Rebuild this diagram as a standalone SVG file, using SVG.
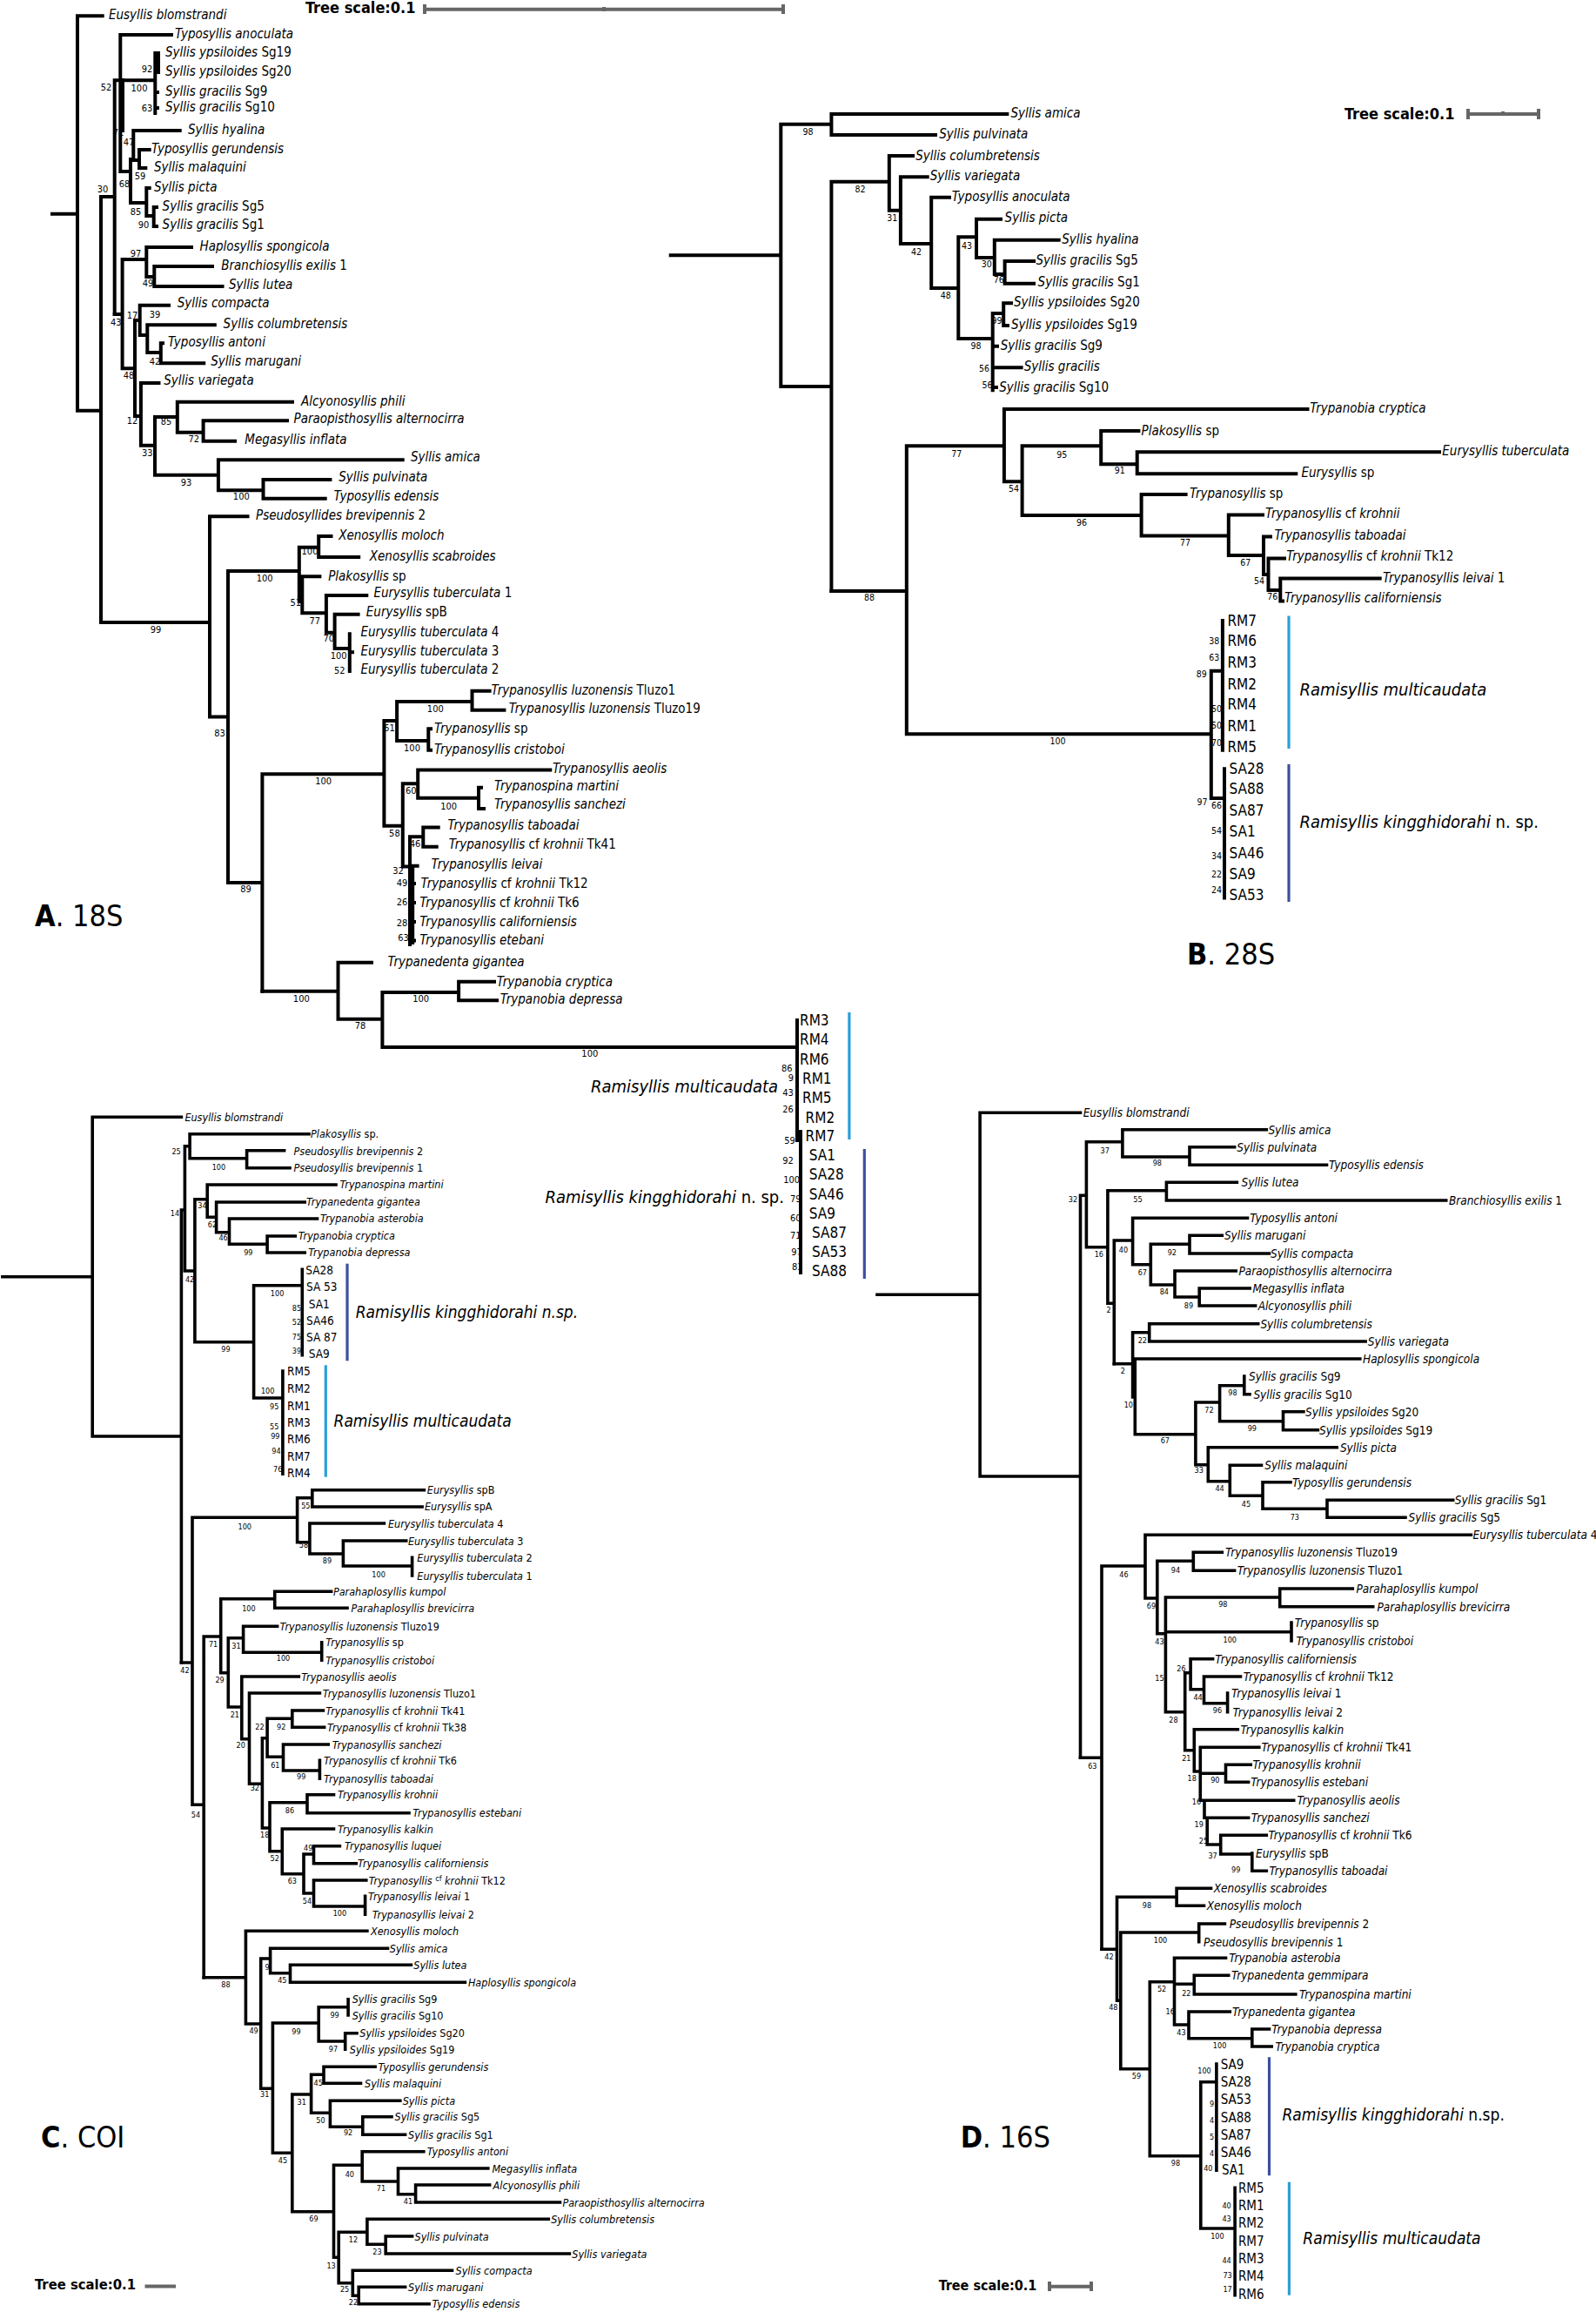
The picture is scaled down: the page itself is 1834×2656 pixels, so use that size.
<svg xmlns="http://www.w3.org/2000/svg" width="1834" height="2656" viewBox="0 0 1834 2656">
<style>
text{font-family:'DejaVu Sans Condensed','DejaVu Sans',sans-serif;fill:#000}
.br{fill:none;stroke:#000;stroke-width:4;stroke-linecap:square}
.brc{stroke-width:3.6}
.i{font-style:italic}
.u{font-style:normal}
.la{font-size:15px}
.lc{font-size:12.5px}
.ld{font-size:13.5px}
.sa{font-size:11px;text-anchor:middle;fill:#111}
.sb{font-size:10.5px;text-anchor:middle;fill:#222}
.sc{font-size:9px;text-anchor:middle;fill:#111}
.code{font-size:17px}
.codec{font-size:13.5px}
.coded{font-size:15px}
.big{font-size:20px;font-style:italic}
.bigc{font-size:19px;font-style:italic}
.pl{font-size:34px}
.ts{font-weight:bold}
.sbar{fill:none;stroke:#666;stroke-width:4}
.lb{stroke:#2a9fd8;stroke-width:3.2}
.db{stroke:#3b4fa0;stroke-width:3.2}
</style>

<!-- ================= PANEL A : 18S ================= -->
<g id="A-tree" class="br">
<path d="M60 245.7H89 M89 18.3V471.7 M89 18.3H117.7 M89 471.7H116 M116 226V715 M116 226H131.7 M131.7 92.3V361 M131.7 92.3H178.3 M178.3 61V130 M182 61V83 M178.3 72H182 M178.3 106H181 M178.3 124H181 M138.3 40V197 M141 92V150 M138.3 40H197 M138.3 197H150 M150 183V233 M150 183H153.3 M153.3 150V184 M153.3 150H206.7 M153.3 184H160 M160 172V193 M160 172H171.7 M160 193H167.3 M150 233H168.3 M168.3 216V248 M168.3 216H171.7 M168.3 248H176.7 M176.7 238V260 M176.7 238H180 M176.7 260H180"/>
<path d="M131.7 361H140.6 M140.6 298V423.3 M140.6 298H168.3 M168.3 284V318 M168.3 284H220 M168.3 318H177.3 M177.3 306V329 M177.3 306H244 M177.3 329H255.5 M140.6 423.3H155 M155 368V478 M155 368H160.7 M160.7 350.7V385 M160.7 350.7H194 M160.7 385H169.3 M169.3 373.3V405 M169.3 373.3H246.8 M169.3 405H184.8 M184.8 394.3V417.3 M184.8 394.3H187 M184.8 417.3H234.2 M155 478H161.9 M161.9 440V511.7 M161.9 440H182.5 M161.9 511.7H178 M178 479V545.7 M178 479H203.8 M203.8 461.7V496.7 M203.8 461.7H336 M203.8 496.7H233.6 M233.6 483.3V506.7 M233.6 483.3H330 M233.6 506.7H270 M178 545.7H250.9 M250.9 528.3V563.3 M250.9 528.3H462.7 M250.9 563.3H302.5 M302.5 551V572.7 M302.5 551H379.4 M302.5 572.7H373.7"/>
<path d="M116 715H241 M241 593.3V823.6 M241 593.3H284.5 M241 823.6H262 M262 656V1014 M262 656H343.8 M343.8 628.7V691 M343.8 628.7H366.2 M366.2 616V640 M366.2 616H380.5 M366.2 640H412.2 M343.8 691H347.3 M347.3 662.3V704.3 M347.3 662.3H367.4 M347.3 704.3H374.9 M374.9 684V726.7 M374.9 684H421.3 M374.9 726.7H384.6 M384.6 705.7V745 M384.6 705.7H411.6 M384.6 745H401.8 M401.8 728.3V771 M401.8 749.3H405"/>
<path d="M262 1014H301.4 M301.4 889.2V1138.7 M301.4 889.2H441.4 M441.4 828V948.8 M441.4 828H456.1 M456.1 806.1V851.1 M456.1 806.1H542.5 M542.5 793.8V815.8 M542.5 793.8H562.6 M542.5 815.8H579.4 M456.1 851.1H492.3 M492.3 837.3V861.7 M492.3 837.3H495 M492.3 861.7H495 M441.4 948.8H462.8 M462.8 900.2V995.6 M462.8 900.2H480.2 M480.2 884.6V916.7 M480.2 884.6H632.3 M480.2 916.7H550 M550 904.8V929 M550 904.8H553 M550 929H556 M462.8 995.6H471 M471 961.2V1085 M471 961.2H486.3 M486.3 950.6V972.7 M486.3 950.6H503.7 M486.3 972.7H501.7 M471 994.7H479.6 M474.2 994.7V1083 M471 1014.9H476 M471 1036.9H476 M471 1058.9H476 M471 1080.5H476"/>
<path d="M301.4 1138.7H388.5 M388.5 1105.7V1170.8 M388.5 1105.7H427 M388.5 1170.8H439.4 M439.4 1140.1V1203 M439.4 1140.1H527.1 M527.1 1127.7V1149.3 M527.1 1127.7H568 M527.1 1149.3H571 M439.4 1203H915.6 M916 1172V1310 M920 1300V1462"/>
</g>
<g id="A-bars">
<path class="lb" d="M975.9 1163V1309"/>
<path class="db" d="M993.3 1320V1469"/>
</g>
<g id="A-leaves" class="i la">
<text x="125" y="22">Eusyllis blomstrandi</text>
<text x="201" y="44">Typosyllis anoculata</text>
<text x="190" y="65">Syllis ypsiloides <tspan class="u">Sg19</tspan></text>
<text x="190" y="87">Syllis ypsiloides <tspan class="u">Sg20</tspan></text>
<text x="190" y="110">Syllis gracilis <tspan class="u">Sg9</tspan></text>
<text x="190" y="128">Syllis gracilis <tspan class="u">Sg10</tspan></text>
<text x="216" y="154">Syllis hyalina</text>
<text x="174" y="176">Typosyllis gerundensis</text>
<text x="177" y="197">Syllis malaquini</text>
<text x="177" y="220">Syllis picta</text>
<text x="186.6" y="242">Syllis gracilis <tspan class="u">Sg5</tspan></text>
<text x="186.6" y="263">Syllis gracilis <tspan class="u">Sg1</tspan></text>
<text x="229.6" y="288">Haplosyllis spongicola</text>
<text x="254.3" y="310">Branchiosyllis exilis <tspan class="u">1</tspan></text>
<text x="263" y="332">Syllis lutea</text>
<text x="203.8" y="353">Syllis compacta</text>
<text x="256.6" y="377">Syllis columbretensis</text>
<text x="192.9" y="398">Typosyllis antoni</text>
<text x="242.3" y="420">Syllis marugani</text>
<text x="188.3" y="442">Syllis variegata</text>
<text x="346" y="466">Alcyonosyllis phili</text>
<text x="337.5" y="486">Paraopisthosyllis alternocirra</text>
<text x="281.3" y="510">Megasyllis inflata</text>
<text x="471.9" y="530">Syllis amica</text>
<text x="389.2" y="553">Syllis pulvinata</text>
<text x="383.5" y="575">Typosyllis edensis</text>
<text x="294" y="597">Pseudosyllides brevipennis <tspan class="u">2</tspan></text>
<text x="389.2" y="620">Xenosyllis moloch</text>
<text x="424.8" y="644">Xenosyllis scabroides</text>
<text x="377.2" y="667">Plakosyllis <tspan class="u">sp</tspan></text>
<text x="429.4" y="686">Eurysyllis tuberculata <tspan class="u">1</tspan></text>
<text x="420.8" y="708">Eurysyllis <tspan class="u">spB</tspan></text>
<text x="414.5" y="731">Eurysyllis tuberculata <tspan class="u">4</tspan></text>
<text x="414.5" y="753">Eurysyllis tuberculata <tspan class="u">3</tspan></text>
<text x="414.5" y="774">Eurysyllis tuberculata <tspan class="u">2</tspan></text>
<text x="564.6" y="798">Trypanosyllis luzonensis <tspan class="u">Tluzo1</tspan></text>
<text x="584.7" y="819">Trypanosyllis luzonensis <tspan class="u">Tluzo19</tspan></text>
<text x="499" y="842">Trypanosyllis <tspan class="u">sp</tspan></text>
<text x="499" y="866">Trypanosyllis cristoboi</text>
<text x="635" y="888">Trypanosyllis aeolis</text>
<text x="568" y="908">Trypanospina martini</text>
<text x="568" y="929">Trypanosyllis sanchezi</text>
<text x="514.4" y="953">Trypanosyllis taboadai</text>
<text x="515.7" y="975">Trypanosyllis <tspan class="u">cf</tspan> krohnii <tspan class="u">Tk41</tspan></text>
<text x="495.6" y="998">Trypanosyllis leivai</text>
<text x="483.6" y="1020">Trypanosyllis <tspan class="u">cf</tspan> krohnii <tspan class="u">Tk12</tspan></text>
<text x="482.2" y="1042">Trypanosyllis <tspan class="u">cf</tspan> krohnii <tspan class="u">Tk6</tspan></text>
<text x="482.2" y="1064">Trypanosyllis californiensis</text>
<text x="482.2" y="1085">Trypanosyllis etebani</text>
<text x="445.4" y="1110">Trypanedenta gigantea</text>
<text x="570.7" y="1133">Trypanobia cryptica</text>
<text x="574.7" y="1153">Trypanobia depressa</text>
</g>
<g id="A-codes" class="code">
<text x="919" y="1178">RM3</text>
<text x="919" y="1200">RM4</text>
<text x="919" y="1222.7">RM6</text>
<text x="922" y="1244.7">RM1</text>
<text x="922" y="1266.7">RM5</text>
<text x="925.6" y="1289.7">RM2</text>
<text x="925.6" y="1311.2">RM7</text>
<text x="929.7" y="1333.2">SA1</text>
<text x="929.7" y="1355.3">SA28</text>
<text x="929.7" y="1377.7">SA46</text>
<text x="929.7" y="1399.8">SA9</text>
<text x="933" y="1422.2">SA87</text>
<text x="933" y="1444.3">SA53</text>
<text x="933" y="1466.3">SA88</text>
</g>
<g id="A-support" class="sa">
<text x="169" y="83">92</text><text x="160" y="105">100</text><text x="169" y="128">63</text>
<text x="122" y="104">52</text><text x="136" y="156">71</text><text x="148" y="167">47</text>
<text x="161" y="206">59</text><text x="143" y="215">68</text><text x="118" y="221">30</text>
<text x="156" y="247">85</text><text x="165" y="262">90</text>
<text x="156" y="295">97</text><text x="170" y="329">49</text>
<text x="133.3" y="374">43</text><text x="152" y="366">17</text><text x="178" y="365">39</text>
<text x="178" y="419">42</text><text x="148" y="435">48</text><text x="152" y="487">12</text>
<text x="191" y="488">85</text><text x="222.7" y="508">72</text><text x="169.3" y="524">33</text>
<text x="214" y="558">93</text><text x="277.3" y="574">100</text>
<text x="179" y="727">99</text><text x="304.2" y="668">100</text><text x="356" y="637">100</text>
<text x="339.8" y="696">51</text><text x="361.7" y="717">77</text><text x="377.7" y="737">70</text>
<text x="389.2" y="757">100</text><text x="390.3" y="774">52</text><text x="252.5" y="846">83</text>
<text x="500.3" y="818">100</text><text x="447.4" y="840">61</text><text x="473.5" y="863">100</text>
<text x="371.7" y="901">100</text><text x="472.2" y="912">60</text><text x="515.7" y="930">100</text>
<text x="453.4" y="961">58</text><text x="477" y="973">46</text><text x="457.5" y="1004">32</text>
<text x="462" y="1018">49</text><text x="462" y="1040">26</text><text x="462" y="1064">28</text>
<text x="463.5" y="1081">63</text><text x="282.6" y="1025">89</text>
<text x="346.3" y="1151">100</text><text x="483.6" y="1151">100</text><text x="414" y="1182">78</text>
<text x="677.8" y="1214">100</text>
<text x="904.2" y="1231">86</text><text x="909" y="1242">9</text><text x="905.6" y="1259">43</text>
<text x="905.6" y="1278">26</text><text x="907.6" y="1314">59</text><text x="905.6" y="1337">92</text>
<text x="909.6" y="1359">100</text><text x="914.3" y="1381">79</text><text x="914.3" y="1403">60</text>
<text x="914.3" y="1423">71</text><text x="915.6" y="1442">97</text><text x="916.3" y="1459">83</text>
</g>
<g id="A-clades">
<text class="big" x="894" y="1255" text-anchor="end">Ramisyllis multicaudata</text>
<text class="big" x="901" y="1382" text-anchor="end">Ramisyllis kingghidorahi <tspan class="u">n. sp.</tspan></text>
</g>
<g id="A-title">
<text class="pl" x="40" y="1064"><tspan font-weight="bold">A</tspan>. 18S</text>
</g>
<g id="A-scale">
<text class="ts" x="351" y="15" font-size="18">Tree scale:0.1</text>
<path class="sbar" d="M488 10.7H900 M488 5V16 M900 5V16 M694 8V13"/>
</g>

<!-- ================= PANEL B : 28S ================= -->
<g id="B-tree" class="br">
<path d="M770.7 293.3H897.3 M897.3 142.7V444 M897.3 142.7H955.4 M955.4 131V155 M955.4 131H1157.3 M955.4 155H1074.9 M897.3 444H955.4 M955.4 208.7V678.9 M955.4 208.7H1021.8 M1021.8 179V241.7 M1021.8 179H1049 M1021.8 241.7H1034.9 M1034.9 203.3V280 M1034.9 203.3H1065.7 M1034.9 280H1070.2 M1070.2 226.7V331 M1070.2 226.7H1091 M1070.2 331H1101.3 M1101.3 272.3V389 M1101.3 272.3H1122 M1122 251.7V296 M1122 251.7H1150 M1122 296H1142.8 M1142.8 275.7V315 M1142.8 275.7H1216.7 M1142.8 315H1154.6 M1154.6 300V325.7 M1154.6 300H1188 M1154.6 325.7H1188 M1101.3 389H1140.7 M1140.7 360V448.3 M1140.7 360H1153.2 M1153.2 348.3V374 M1153.2 348.3H1162 M1153.2 374H1158 M1140.7 397.7H1146 M1140.7 422.3H1173.6 M1140.7 445H1145"/>
<path d="M955.4 678.9H1041.8 M1041.8 512.3V843.2 M1041.8 512.3H1153.9 M1153.9 470V553.3 M1153.9 470H1502.5 M1153.9 553.3H1174.6 M1174.6 512.3V592.1 M1174.6 512.3H1265.2 M1265.2 495V533.3 M1265.2 495H1308.4 M1265.2 533.3H1306.7 M1306.7 519.3V544.3 M1306.7 519.3H1654 M1306.7 544.3H1489.3 M1174.6 592.1H1311.6 M1311.6 567.9V615.4 M1311.6 567.9H1362.6 M1311.6 615.4H1411.8 M1411.8 591.4V637.9 M1411.8 591.4H1451 M1411.8 637.9H1452 M1452 616.4V660 M1452 616.4H1460 M1452 660H1457.5 M1457.5 641.4V677.9 M1457.5 641.4H1476 M1457.5 677.9H1471.3 M1471.3 664.6V690.4 M1471.3 664.6H1585.7 M1471.3 690.4H1474 M1041.8 843.2H1391.8 M1391.8 770.7V917.1 M1391.8 770.7H1404.9 M1404.9 712.9V861.8 M1391.8 917.1H1407 M1407 883.2V1031.4"/>
</g>
<g id="B-bars">
<path class="lb" d="M1481 707.5V860"/>
<path class="db" d="M1481 877.9V1036"/>
</g>
<g id="B-leaves" class="i la">
<text x="1161.5" y="135">Syllis amica</text>
<text x="1079.2" y="159">Syllis pulvinata</text>
<text x="1052.2" y="184">Syllis columbretensis</text>
<text x="1068.8" y="207">Syllis variegata</text>
<text x="1093.7" y="231">Typosyllis anoculata</text>
<text x="1154.6" y="255">Syllis picta</text>
<text x="1220.3" y="280">Syllis hyalina</text>
<text x="1190.5" y="304">Syllis gracilis <tspan class="u">Sg5</tspan></text>
<text x="1192.6" y="329">Syllis gracilis <tspan class="u">Sg1</tspan></text>
<text x="1165" y="352">Syllis ypsiloides <tspan class="u">Sg20</tspan></text>
<text x="1162" y="378">Syllis ypsiloides <tspan class="u">Sg19</tspan></text>
<text x="1149.7" y="402">Syllis gracilis <tspan class="u">Sg9</tspan></text>
<text x="1176.7" y="426">Syllis gracilis</text>
<text x="1148.3" y="450">Syllis gracilis <tspan class="u">Sg10</tspan></text>
<text x="1505.2" y="474">Trypanobia cryptica</text>
<text x="1311.6" y="500">Plakosyllis <tspan class="u">sp</tspan></text>
<text x="1657.3" y="523">Eurysyllis tuberculata</text>
<text x="1495.5" y="548">Eurysyllis <tspan class="u">sp</tspan></text>
<text x="1366.9" y="572">Trypanosyllis <tspan class="u">sp</tspan></text>
<text x="1454" y="595">Trypanosyllis <tspan class="u">cf</tspan> krohnii</text>
<text x="1464.4" y="620">Trypanosyllis taboadai</text>
<text x="1478.2" y="644">Trypanosyllis <tspan class="u">cf</tspan> krohnii <tspan class="u">Tk12</tspan></text>
<text x="1588.9" y="669">Trypanosyllis leivai <tspan class="u">1</tspan></text>
<text x="1476" y="692">Trypanosyllis californiensis</text>
</g>
<g id="B-codes" class="code">
<text x="1410.4" y="719">RM7</text>
<text x="1410.4" y="742.4">RM6</text>
<text x="1410.4" y="767">RM3</text>
<text x="1410.4" y="791.7">RM2</text>
<text x="1410.4" y="814.9">RM4</text>
<text x="1410.4" y="840.3">RM1</text>
<text x="1410.4" y="864.2">RM5</text>
<text x="1412.5" y="889.2">SA28</text>
<text x="1412.5" y="912.4">SA88</text>
<text x="1412.5" y="937.4">SA87</text>
<text x="1412.5" y="960.6">SA1</text>
<text x="1412.5" y="985.6">SA46</text>
<text x="1412.5" y="1009.9">SA9</text>
<text x="1412.5" y="1033.9">SA53</text>
</g>
<g id="B-support" class="sb">
<text x="928.4" y="155">98</text><text x="988.6" y="221">82</text><text x="1025.2" y="254">31</text>
<text x="1052.9" y="293">42</text><text x="1086.8" y="343">48</text><text x="1111" y="286">43</text>
<text x="1133.8" y="307">30</text><text x="1147.7" y="325">76</text><text x="1145.6" y="372">99</text>
<text x="1121.4" y="401">98</text><text x="1131" y="427">56</text><text x="1134.5" y="446">56</text>
<text x="1099.2" y="525">77</text><text x="1220.3" y="526">95</text><text x="1286.7" y="544">91</text>
<text x="1164.9" y="565">54</text><text x="1243" y="604">96</text><text x="1362" y="627">77</text>
<text x="1431.2" y="650">67</text><text x="1447" y="671">54</text><text x="1462.3" y="689">76</text>
<text x="999" y="690">88</text><text x="1215.4" y="855">100</text><text x="1380.7" y="778">89</text>
<text x="1395.2" y="740">38</text><text x="1395.2" y="759">63</text><text x="1398" y="818">50</text>
<text x="1398" y="837">50</text><text x="1398" y="857">70</text><text x="1381.4" y="925">97</text>
<text x="1398" y="929">66</text><text x="1398" y="958">54</text><text x="1398" y="987">34</text>
<text x="1398" y="1008">22</text><text x="1398" y="1026">24</text>
</g>
<g id="B-clades">
<text class="big" x="1493.4" y="799">Ramisyllis multicaudata</text>
<text class="big" x="1493.4" y="951">Ramisyllis kingghidorahi <tspan class="u">n. sp.</tspan></text>
</g>
<g id="B-title">
<text class="pl" x="1364" y="1108"><tspan font-weight="bold">B</tspan>. 28S</text>
</g>
<g id="B-scale">
<text class="ts" x="1545" y="137" font-size="18">Tree scale:0.1</text>
<path class="sbar" d="M1687 131H1768 M1687 125V137 M1768 125V137 M1727 128V133"/>
</g>

<!-- ================= PANEL C : COI ================= -->
<g id="C-tree" class="br brc">
<path d="M2.9 1466.7H106.2 M106.2 1283.3V1650 M106.2 1283.3H208.4 M106.2 1650H208.4 M208.4 1390V1910 M208.4 1390H212.4 M212.4 1316.7V1460 M212.4 1316.7H218.1 M218.1 1302.7V1330.7 M218.1 1302.7H355 M218.1 1330.7H283.6 M283.6 1321.7V1341.7 M283.6 1321.7H326.6 M283.6 1341.7H333 M212.4 1460H223.9 M223.9 1377.7V1541.7 M223.9 1377.7H238.2 M238.2 1361V1398.3 M238.2 1361H386 M238.2 1398.3H248.6 M248.6 1381V1415.7 M248.6 1381H350.2 M248.6 1415.7H263.5 M263.5 1400V1429.3 M263.5 1400H364.5 M263.5 1429.3H307.1 M307.1 1420V1439 M307.1 1420H339.3 M307.1 1439H350.2 M223.9 1541.7H291.6 M291.6 1476.7V1606 M291.6 1476.7H347.3 M347.3 1458.3V1556.7 M291.6 1606H324.9 M324.9 1575V1693.3"/>
<path d="M208.4 1910H221 M221 1743.3V2073.3 M221 1743.3H341.6 M341.6 1720.7V1771.7 M341.6 1720.7H358.8 M358.8 1711.7V1731 M358.8 1711.7H487.4 M358.8 1731H485.1 M341.6 1771.7H355.9 M355.9 1750V1785 M355.9 1750H441.4 M355.9 1785H394.4 M394.4 1770V1799 M394.4 1770H466.7 M394.4 1799H473.6 M473.6 1789.3V1810 M221 2073.3H234.2 M234.2 1880V2271.7 M234.2 1880H253.7 M253.7 1836.7V1921.7 M253.7 1836.7H315.7 M315.7 1828.3V1847.3 M315.7 1828.3H380.6 M315.7 1847.3H399 M253.7 1921.7H262.3 M262.3 1881.7V1961 M262.3 1881.7H279.6 M279.6 1868.3V1898.3 M279.6 1868.3H318.6 M279.6 1898.3H369.7 M369.7 1886.7V1907.3 M262.3 1961H277.8 M277.8 1926V1997.7 M277.8 1926H343.3 M277.8 1997.7H286.5 M286.5 1945V2049.3 M286.5 1945H367.4 M286.5 2049.3H301.4 M301.4 1996.7V2100 M301.4 1996.7H307.1 M307.1 1974.3V2018.3 M307.1 1974.3H335.8 M335.8 1965V1984.3 M335.8 1965H371.4 M335.8 1984.3H372.6 M307.1 2018.3H325.5 M325.5 2004V2034 M325.5 2004H377.2 M325.5 2034H367.4 M367.4 2022.3V2043.3 M301.4 2100H310 M310 2070.7V2126.7 M310 2070.7H353 M353 2061.7V2082.7 M353 2061.7H383.5 M353 2082.7H470 M310 2126.7H324.3 M324.3 2101V2152.7 M324.3 2101H383.5 M324.3 2152.7H349 M349 2130V2175 M349 2130H360.5 M360.5 2120.7V2140.7 M360.5 2120.7H390.4 M360.5 2140.7H409.3 M349 2175H360.5 M360.5 2160V2190 M360.5 2160H420.8 M360.5 2190H419.6 M419.6 2178.3V2199.3"/>
<path d="M234.2 2271.7H282.4 M282.4 2218.3V2325 M282.4 2218.3H421.9 M282.4 2325H299.7 M299.7 2250V2399.3 M299.7 2250H310.6 M310.6 2238.3V2266.7 M310.6 2238.3H445.5 M310.6 2266.7H333.5 M333.5 2257.3V2277.3 M333.5 2257.3H472.4 M333.5 2277.3H534.4 M299.7 2399.3H313.4 M313.4 2324V2473.3 M313.4 2324H366.2 M366.2 2305.7V2345 M366.2 2305.7H400.1 M400.1 2296.7V2315 M366.2 2345H396.7 M396.7 2335.7V2354.3 M396.7 2335.7H410 M313.4 2473.3H335.8 M335.8 2406V2540.7 M335.8 2406H357.6 M357.6 2383.3V2427.3 M357.6 2383.3H372 M372 2374.3V2393.3 M372 2374.3H431.1 M372 2393.3H414.5 M357.6 2427.3H379.4 M379.4 2413.3V2443.3 M379.4 2413.3H459.8 M379.4 2443.3H416.8 M416.8 2431.7V2452.3 M416.8 2431.7H450 M416.8 2452.3H465.6 M335.8 2540.7H383.5 M383.5 2487.3V2593.3 M383.5 2487.3H416.2 M416.2 2471.7V2506 M416.2 2471.7H486.8 M416.2 2506H457.5 M457.5 2491V2520.7 M457.5 2491H560.8 M457.5 2520.7H477.6 M477.6 2510V2530 M477.6 2510H562.6 M477.6 2530H643.5 M383.5 2593.3H389.2 M389.2 2564.3V2622.7 M389.2 2564.3H421.9 M421.9 2549.3V2578.3 M421.9 2549.3H630.3 M421.9 2578.3H443.2 M443.2 2569V2589 M443.2 2569H473.6 M443.2 2589H654.4 M389.2 2622.7H405.3 M405.3 2608.3V2637.3 M405.3 2608.3H519.5 M405.3 2637.3H412.2 M412.2 2627.3V2646.7 M412.2 2627.3H465.6 M412.2 2646.7H493.1"/>
</g>
<g id="C-bars">
<path class="db" d="M399 1451.7V1563.3"/>
<path class="lb" d="M374.3 1568.3V1696.7"/>
</g>
<g id="C-leaves" class="i lc">
<text x="212.4" y="1288">Eusyllis blomstrandi</text>
<text x="357" y="1307">Plakosyllis <tspan class="u">sp.</tspan></text>
<text x="337.5" y="1327">Pseudosyllis brevipennis <tspan class="u">2</tspan></text>
<text x="337.5" y="1346">Pseudosyllis brevipennis <tspan class="u">1</tspan></text>
<text x="390.4" y="1365">Trypanospina martini</text>
<text x="351.9" y="1385">Trypanedenta gigantea</text>
<text x="368" y="1404">Trypanobia asterobia</text>
<text x="342.7" y="1424">Trypanobia cryptica</text>
<text x="354.2" y="1443">Trypanobia depressa</text>
<text x="490.8" y="1716">Eurysyllis <tspan class="u">spB</tspan></text>
<text x="488" y="1735">Eurysyllis <tspan class="u">spA</tspan></text>
<text x="446" y="1754.5">Eurysyllis tuberculata <tspan class="u">4</tspan></text>
<text x="469" y="1774.5">Eurysyllis tuberculata <tspan class="u">3</tspan></text>
<text x="479.3" y="1793.8">Eurysyllis tuberculata <tspan class="u">2</tspan></text>
<text x="479.3" y="1814.5">Eurysyllis tuberculata <tspan class="u">1</tspan></text>
<text x="382.9" y="1833">Parahaplosyllis kumpol</text>
<text x="403.6" y="1852">Parahaplosyllis brevicirra</text>
<text x="321.5" y="1873">Trypanosyllis luzonensis <tspan class="u">Tluzo19</tspan></text>
<text x="374.3" y="1891">Trypanosyllis <tspan class="u">sp</tspan></text>
<text x="374.3" y="1912">Trypanosyllis cristoboi</text>
<text x="346.2" y="1930.5">Trypanosyllis aeolis</text>
<text x="370.8" y="1949.5">Trypanosyllis luzonensis <tspan class="u">Tluzo1</tspan></text>
<text x="374.3" y="1969.5">Trypanosyllis <tspan class="u">cf</tspan> krohnii <tspan class="u">Tk41</tspan></text>
<text x="376" y="1989">Trypanosyllis <tspan class="u">cf</tspan> krohnii <tspan class="u">Tk38</tspan></text>
<text x="381.7" y="2008.5">Trypanosyllis sanchezi</text>
<text x="372" y="2027">Trypanosyllis <tspan class="u">cf</tspan> krohnii <tspan class="u">Tk6</tspan></text>
<text x="372" y="2048">Trypanosyllis taboadai</text>
<text x="388" y="2066">Trypanosyllis krohnii</text>
<text x="474.2" y="2087">Trypanosyllis estebani</text>
<text x="388" y="2105.5">Trypanosyllis kalkin</text>
<text x="396" y="2125">Trypanosyllis luquei</text>
<text x="411" y="2145">Trypanosyllis californiensis</text>
<text x="423.7" y="2164.5">Trypanosyllis <tspan class="u" dy="-4" font-size="9">cf</tspan><tspan dy="4"> krohnii </tspan><tspan class="u">Tk12</tspan></text>
<text x="423" y="2183">Trypanosyllis leivai <tspan class="u">1</tspan></text>
<text x="427.7" y="2204">Trypanosyllis leivai <tspan class="u">2</tspan></text>
<text x="426" y="2223">Xenosyllis moloch</text>
<text x="447.8" y="2243">Syllis amica</text>
<text x="475.3" y="2262">Syllis lutea</text>
<text x="537.9" y="2282">Haplosyllis spongicola</text>
<text x="404.7" y="2301">Syllis gracilis <tspan class="u">Sg9</tspan></text>
<text x="404.7" y="2319.5">Syllis gracilis <tspan class="u">Sg10</tspan></text>
<text x="413.3" y="2340">Syllis ypsiloides <tspan class="u">Sg20</tspan></text>
<text x="401.8" y="2359">Syllis ypsiloides <tspan class="u">Sg19</tspan></text>
<text x="434.6" y="2379">Typosyllis gerundensis</text>
<text x="419" y="2398">Syllis malaquini</text>
<text x="462.7" y="2418">Syllis picta</text>
<text x="453.5" y="2436">Syllis gracilis <tspan class="u">Sg5</tspan></text>
<text x="469" y="2457">Syllis gracilis <tspan class="u">Sg1</tspan></text>
<text x="490.8" y="2476">Typosyllis antoni</text>
<text x="565.4" y="2495.5">Megasyllis inflata</text>
<text x="566.6" y="2514.5">Alcyonosyllis phili</text>
<text x="646.4" y="2534.5">Paraopisthosyllis alternocirra</text>
<text x="633.2" y="2554">Syllis columbretensis</text>
<text x="476.5" y="2573.5">Syllis pulvinata</text>
<text x="657.3" y="2593.5">Syllis variegata</text>
<text x="523.5" y="2613">Syllis compacta</text>
<text x="469" y="2632">Syllis marugani</text>
<text x="496.6" y="2651">Typosyllis edensis</text>
</g>
<g id="C-codes" class="codec">
<text x="351.3" y="1464">SA28</text>
<text x="352" y="1483.3">SA 53</text>
<text x="354.8" y="1502.7">SA1</text>
<text x="352" y="1521.7">SA46</text>
<text x="352" y="1541">SA 87</text>
<text x="354.8" y="1560.3">SA9</text>
<text x="330" y="1580">RM5</text>
<text x="330" y="1600">RM2</text>
<text x="330" y="1620">RM1</text>
<text x="330" y="1639">RM3</text>
<text x="330" y="1658.3">RM6</text>
<text x="330" y="1677.7">RM7</text>
<text x="330" y="1696.7">RM4</text>
</g>
<g id="C-support" class="sc">
<text x="202.6" y="1325.5">25</text><text x="251.4" y="1344">100</text><text x="200.9" y="1397">14</text>
<text x="232.5" y="1388">34</text><text x="244" y="1410">62</text><text x="256.6" y="1425">46</text>
<text x="285.3" y="1441.5">99</text><text x="218.1" y="1472.5">42</text><text x="318.6" y="1489">100</text>
<text x="341" y="1505.5">85</text><text x="341" y="1521.5">52</text><text x="341" y="1539">75</text>
<text x="341" y="1555">39</text><text x="259.5" y="1552.5">99</text><text x="307.7" y="1600.5">100</text>
<text x="315.2" y="1619">95</text><text x="315.2" y="1642">55</text><text x="316.3" y="1652.5">99</text>
<text x="317.4" y="1670">94</text><text x="319.2" y="1691">76</text>
<text x="281.3" y="1756.5">100</text><text x="351.3" y="1733">55</text><text x="349" y="1778">58</text>
<text x="376" y="1795.5">89</text><text x="435.1" y="1811.5">100</text><text x="212.4" y="1922">42</text>
<text x="245.1" y="1891.5">71</text><text x="285.9" y="1850.5">100</text><text x="252.6" y="1933">29</text>
<text x="271.5" y="1894">31</text><text x="325.5" y="1908">100</text><text x="269.8" y="1972.5">21</text>
<text x="276.7" y="2008">20</text><text x="298.5" y="1986.5">22</text><text x="323.2" y="1986.5">92</text>
<text x="316.3" y="2030.5">61</text><text x="346.2" y="2044">99</text><text x="292.8" y="2057">32</text>
<text x="225" y="2088">54</text><text x="333" y="2083">86</text><text x="304.2" y="2110.5">18</text>
<text x="315.7" y="2138">52</text><text x="354.2" y="2125.5">49</text><text x="335.8" y="2164">63</text>
<text x="353" y="2186.5">54</text><text x="390.4" y="2200.5">100</text>
<text x="259.5" y="2283">88</text><text x="307.1" y="2263">9</text><text x="324.3" y="2278">45</text>
<text x="291.6" y="2336">49</text><text x="384.6" y="2317.5">99</text><text x="340.4" y="2336.5">99</text>
<text x="382.9" y="2356.5">97</text><text x="304.2" y="2409">31</text><text x="365.7" y="2395.5">45</text>
<text x="346.7" y="2418">31</text><text x="368.5" y="2439">50</text><text x="400.1" y="2453">92</text>
<text x="324.9" y="2485">45</text><text x="401.8" y="2500.5">40</text><text x="438" y="2516.5">71</text>
<text x="469" y="2531.5">41</text><text x="360.5" y="2552">69</text><text x="405.9" y="2576">12</text>
<text x="433.4" y="2590">23</text><text x="380.6" y="2605.5">13</text><text x="396.1" y="2633">25</text>
<text x="405.9" y="2648">22</text>
</g>
<g id="C-clades">
<text class="bigc" x="408.7" y="1514">Ramisyllis kingghidorahi n.sp.</text>
<text class="bigc" x="383.5" y="1639">Ramisyllis multicaudata</text>
</g>
<g id="C-title">
<text class="pl" x="47" y="2467"><tspan font-weight="bold">C</tspan>. COI</text>
</g>
<g id="C-scale">
<text class="ts" x="40" y="2630" font-size="16.5">Tree scale:0.1</text>
<path class="sbar" d="M166.5 2626.5H202"/>
</g>

<!-- ================= PANEL D : 16S ================= -->
<g id="D-tree" class="br brc">
<path d="M1008 1487.3H1126.1 M1126.1 1278.3V1696 M1126.1 1278.3H1241.5 M1126.1 1696H1241.5 M1241.5 1373.3V2019.3 M1241.5 1373.3H1248.4 M1248.4 1311.7V1432.7 M1248.4 1311.7H1289.9 M1289.9 1297.7V1329 M1289.9 1297.7H1455.3 M1289.9 1329H1367 M1367 1317.7V1338.3 M1367 1317.7H1418.6 M1367 1338.3H1524.5 M1248.4 1432.7H1272.9 M1272.9 1367.7V1497.3 M1272.9 1367.7H1340.4 M1340.4 1358.3V1379 M1340.4 1358.3H1421.3 M1340.4 1379H1661.7 M1272.9 1497.3H1280.3 M1280.3 1425V1566.7 M1280.3 1425H1301.6 M1301.6 1399.3V1452.7 M1301.6 1399.3H1433.5 M1301.6 1452.7H1322.3 M1322.3 1429.3V1476 M1322.3 1429.3H1367 M1367 1419.3V1440 M1367 1419.3H1404.3 M1367 1440H1458.5 M1322.3 1476H1350 M1350 1460V1490 M1350 1460H1420.2 M1350 1490H1378.2 M1378.2 1480V1500 M1378.2 1480H1436.2 M1378.2 1500H1442.6"/>
<path d="M1280.3 1566.7H1301.6 M1301.6 1530.7V1605 M1301.6 1530.7H1320.7 M1320.7 1520.7V1541 M1320.7 1520.7H1445.7 M1320.7 1541H1569.1 M1301.6 1561H1562.8 M1304.3 1561V1647.7 M1304.3 1647.7H1373.9 M1373.9 1611V1682.7 M1373.9 1611H1401.6 M1401.6 1591.7V1632.7 M1401.6 1591.7H1429.8 M1429.8 1581V1601.7 M1429.8 1601.7H1436 M1401.6 1632.7H1474.5 M1474.5 1621.7V1642.7 M1474.5 1621.7H1497.9 M1474.5 1642.7H1514.4 M1373.9 1682.7H1388.3 M1388.3 1662.7V1701.7 M1388.3 1662.7H1536.2 M1388.3 1701.7H1413.3 M1413.3 1683.3V1718.3 M1413.3 1683.3H1449.5 M1413.3 1718.3H1451 M1451 1702.7V1733.3 M1451 1702.7H1483 M1451 1733.3H1525 M1525 1723.3V1743.3 M1525 1723.3H1669.7 M1525 1743.3H1615"/>
<path d="M1241.5 2019.3H1266 M1266 1799V2239.3 M1266 1799H1316 M1316 1763.3V1836 M1316 1763.3H1690.4 M1316 1836H1329.8 M1329.8 1793.3V1876.7 M1329.8 1793.3H1371.3 M1371.3 1783.3V1804.3 M1371.3 1783.3H1404.3 M1371.3 1804.3H1418.6 M1329.8 1876.7H1339.4 M1339.4 1835V1966.7 M1339.4 1835H1470.7 M1470.7 1825V1845.7 M1470.7 1825H1554.3 M1470.7 1845.7H1577.7 M1339.4 1874.7H1484 M1484 1864V1885 M1339.4 1966.7H1361.7 M1361.7 1921.7V2010.7 M1361.7 1921.7H1368.1 M1368.1 1905.7V1940.7 M1368.1 1905.7H1393.6 M1368.1 1940.7H1383.5 M1383.5 1926V1956.7 M1383.5 1926H1425.5 M1383.5 1956.7H1410.6 M1410.6 1945V1966.7 M1361.7 2010.7H1372.3 M1372.3 1986.7V2035 M1372.3 1986.7H1422.3 M1372.3 2035H1379.3 M1379.3 2007.3V2068.3 M1379.3 2007.3H1446.8 M1379.3 2037.3H1408.5 M1408.5 2027.3V2047.3 M1408.5 2027.3H1437.2 M1408.5 2047.3H1434.6 M1379.3 2068.3H1486.7 M1384 2068.3V2088.3 M1384 2088.3H1434.6 M1387.2 2088.3V2119 M1387.2 2119H1402.7 M1402.7 2108.3V2130 M1402.7 2108.3H1455.3 M1402.7 2130H1438.8 M1438.8 2129V2149.3 M1438.8 2149.3H1455.3"/>
<path d="M1266 2239.3H1283.5 M1283.5 2179.3V2298.3 M1283.5 2179.3H1352.1 M1352.1 2169.3V2189.3 M1352.1 2169.3H1391.5 M1352.1 2189.3H1383.5 M1283.5 2298.3H1287.8 M1287.8 2220V2376.7 M1287.8 2220H1377.7 M1377.7 2210V2230.7 M1377.7 2210H1407.4 M1287.8 2376.7H1321.3 M1321.3 2276.7V2476.7 M1321.3 2276.7H1349.5 M1349.5 2249.3V2326 M1349.5 2249.3H1408.5 M1349.5 2279.3H1372.3 M1372.3 2269.3V2291 M1372.3 2269.3H1411.7 M1372.3 2291H1488.8 M1349.5 2326H1366 M1366 2311V2341.7 M1366 2311H1413.3 M1366 2341.7H1438.8 M1438.8 2331V2351 M1438.8 2331H1458.5 M1438.8 2351H1461.2 M1321.3 2476.7H1379.8 M1379.8 2391.7V2560 M1379.8 2391.7H1397.9 M1397.9 2371V2493.3 M1379.8 2560H1419.1 M1419.1 2513.3V2636.7"/>
</g>
<g id="D-bars">
<path class="db" d="M1458.5 2363.3V2499.3"/>
<path class="lb" d="M1481.4 2506.7V2636.7"/>
</g>
<g id="D-leaves" class="i ld">
<text x="1244.7" y="1283">Eusyllis blomstrandi</text>
<text x="1457.4" y="1302.5">Syllis amica</text>
<text x="1421.3" y="1322.5">Syllis pulvinata</text>
<text x="1527.1" y="1343">Typosyllis edensis</text>
<text x="1426.6" y="1363">Syllis lutea</text>
<text x="1664.9" y="1384">Branchiosyllis exilis <tspan class="u">1</tspan></text>
<text x="1436.2" y="1404">Typosyllis antoni</text>
<text x="1406.9" y="1424">Syllis marugani</text>
<text x="1460.1" y="1445">Syllis compacta</text>
<text x="1423.4" y="1465">Paraopisthosyllis alternocirra</text>
<text x="1439.4" y="1485">Megasyllis inflata</text>
<text x="1445.7" y="1505">Alcyonosyllis phili</text>
<text x="1448.4" y="1525.5">Syllis columbretensis</text>
<text x="1571.8" y="1546">Syllis variegata</text>
<text x="1566" y="1566">Haplosyllis spongicola</text>
<text x="1435.1" y="1586">Syllis gracilis <tspan class="u">Sg9</tspan></text>
<text x="1440.4" y="1606.5">Syllis gracilis <tspan class="u">Sg10</tspan></text>
<text x="1500" y="1626.5">Syllis ypsiloides <tspan class="u">Sg20</tspan></text>
<text x="1516" y="1647.5">Syllis ypsiloides <tspan class="u">Sg19</tspan></text>
<text x="1539.9" y="1667.5">Syllis picta</text>
<text x="1453.2" y="1688">Syllis malaquini</text>
<text x="1485.1" y="1707.5">Typosyllis gerundensis</text>
<text x="1671.8" y="1728">Syllis gracilis <tspan class="u">Sg1</tspan></text>
<text x="1618.6" y="1748">Syllis gracilis <tspan class="u">Sg5</tspan></text>
<text x="1692.6" y="1768">Eurysyllis tuberculata <tspan class="u">4</tspan></text>
<text x="1408" y="1788">Trypanosyllis luzonensis <tspan class="u">Tluzo19</tspan></text>
<text x="1421.8" y="1809">Trypanosyllis luzonensis <tspan class="u">Tluzo1</tspan></text>
<text x="1558.5" y="1830">Parahaplosyllis kumpol</text>
<text x="1582.4" y="1850.5">Parahaplosyllis brevicirra</text>
<text x="1487.8" y="1869">Trypanosyllis <tspan class="u">sp</tspan></text>
<text x="1489.4" y="1890">Trypanosyllis cristoboi</text>
<text x="1396.3" y="1910.5">Trypanosyllis californiensis</text>
<text x="1428.7" y="1931">Trypanosyllis <tspan class="u">cf</tspan> krohnii <tspan class="u">Tk12</tspan></text>
<text x="1414.9" y="1950">Trypanosyllis leivai <tspan class="u">1</tspan></text>
<text x="1416.5" y="1971.5">Trypanosyllis leivai <tspan class="u">2</tspan></text>
<text x="1425.5" y="1991.5">Trypanosyllis kalkin</text>
<text x="1449.5" y="2012">Trypanosyllis <tspan class="u">cf</tspan> krohnii <tspan class="u">Tk41</tspan></text>
<text x="1439.4" y="2032">Trypanosyllis krohnii</text>
<text x="1437.2" y="2052">Trypanosyllis estebani</text>
<text x="1490.4" y="2073">Trypanosyllis aeolis</text>
<text x="1437.8" y="2093">Trypanosyllis sanchezi</text>
<text x="1457.4" y="2113">Trypanosyllis <tspan class="u">cf</tspan> krohnii <tspan class="u">Tk6</tspan></text>
<text x="1443" y="2134">Eurysyllis <tspan class="u">spB</tspan></text>
<text x="1458.5" y="2154">Trypanosyllis taboadai</text>
<text x="1394.7" y="2174">Xenosyllis scabroides</text>
<text x="1386.7" y="2194">Xenosyllis moloch</text>
<text x="1412.8" y="2215">Pseudosyllis brevipennis <tspan class="u">2</tspan></text>
<text x="1383" y="2235.5">Pseudosyllis brevipennis <tspan class="u">1</tspan></text>
<text x="1412.2" y="2254">Trypanobia asterobia</text>
<text x="1414.9" y="2274">Trypanedenta gemmipara</text>
<text x="1493" y="2296">Trypanospina martini</text>
<text x="1416" y="2316">Trypanedenta gigantea</text>
<text x="1461.2" y="2336">Trypanobia depressa</text>
<text x="1465.4" y="2356">Trypanobia cryptica</text>
</g>
<g id="D-codes" class="coded">
<text x="1402.7" y="2376.5">SA9</text>
<text x="1402.7" y="2396.5">SA28</text>
<text x="1402.7" y="2417">SA53</text>
<text x="1402.7" y="2438">SA88</text>
<text x="1402.7" y="2458">SA87</text>
<text x="1402.7" y="2478">SA46</text>
<text x="1404" y="2498">SA1</text>
<text x="1422.9" y="2519">RM5</text>
<text x="1422.9" y="2539">RM1</text>
<text x="1422.9" y="2559">RM2</text>
<text x="1422.9" y="2580">RM7</text>
<text x="1422.9" y="2600">RM3</text>
<text x="1422.9" y="2620">RM4</text>
<text x="1422.9" y="2640.5">RM6</text>
</g>
<g id="D-support" class="sc">
<text x="1233" y="1381">32</text><text x="1269.7" y="1325">37</text><text x="1329.8" y="1339">98</text>
<text x="1262.8" y="1444">16</text><text x="1307.4" y="1380.5">55</text><text x="1274" y="1508">2</text>
<text x="1291" y="1438.5">40</text><text x="1312.8" y="1464.5">67</text><text x="1346.8" y="1441.5">92</text>
<text x="1337.8" y="1486.5">84</text><text x="1366" y="1502.5">89</text><text x="1290.4" y="1578">2</text>
<text x="1312.8" y="1542.5">22</text><text x="1296.8" y="1616.5">10</text><text x="1338.8" y="1658">67</text>
<text x="1389.4" y="1623">72</text><text x="1416.5" y="1603">98</text><text x="1438.8" y="1644">99</text>
<text x="1377.7" y="1692">33</text><text x="1401.6" y="1713">44</text><text x="1431.9" y="1730.5">45</text>
<text x="1487.8" y="1745.5">73</text><text x="1255.3" y="2031.5">63</text><text x="1291.5" y="1811.5">46</text>
<text x="1351" y="1806.5">94</text><text x="1322.9" y="1847.5">69</text><text x="1405.3" y="1845.5">98</text>
<text x="1413.3" y="1886.5">100</text><text x="1332.4" y="1889">43</text><text x="1332.4" y="1930.5">15</text>
<text x="1357.4" y="1920">26</text><text x="1348.4" y="1979">28</text><text x="1376.6" y="1953">44</text>
<text x="1398.9" y="1967.5">96</text><text x="1363.3" y="2022.5">21</text><text x="1369.7" y="2045.5">18</text>
<text x="1396.3" y="2048">90</text><text x="1375" y="2073">16</text><text x="1377.7" y="2099">19</text>
<text x="1383" y="2117.5">25</text><text x="1393.6" y="2135">37</text><text x="1420.2" y="2151">99</text>
<text x="1318" y="2191.5">98</text><text x="1274.5" y="2250.5">42</text><text x="1279.3" y="2309">48</text>
<text x="1333.5" y="2231.5">100</text><text x="1335.1" y="2288">52</text><text x="1363.3" y="2292.5">22</text>
<text x="1344.7" y="2314">16</text><text x="1357.4" y="2338">43</text><text x="1401.6" y="2353">100</text>
<text x="1305.9" y="2388">59</text><text x="1384" y="2381.5">100</text><text x="1392.6" y="2420">9</text>
<text x="1392.6" y="2439">4</text><text x="1392.6" y="2458">5</text><text x="1392.6" y="2476.5">4</text>
<text x="1388.3" y="2494">40</text><text x="1351" y="2488">98</text><text x="1398.9" y="2572">100</text>
<text x="1409.6" y="2536.5">40</text><text x="1409.6" y="2552">43</text><text x="1409.6" y="2600">44</text>
<text x="1410.6" y="2617">73</text><text x="1410.6" y="2633">17</text>
</g>
<g id="D-clades">
<text class="bigc" x="1473.4" y="2436">Ramisyllis kingghidorahi <tspan class="u">n.sp.</tspan></text>
<text class="bigc" x="1497.3" y="2578">Ramisyllis multicaudata</text>
</g>
<g id="D-title">
<text class="pl" x="1103.7" y="2467"><tspan font-weight="bold">D</tspan>. 16S</text>
</g>
<g id="D-scale">
<text class="ts" x="1078.7" y="2631" font-size="16">Tree scale:0.1</text>
<path class="sbar" d="M1206 2626.7H1254 M1206 2621V2632 M1254 2621V2632"/>
</g>
</svg>
